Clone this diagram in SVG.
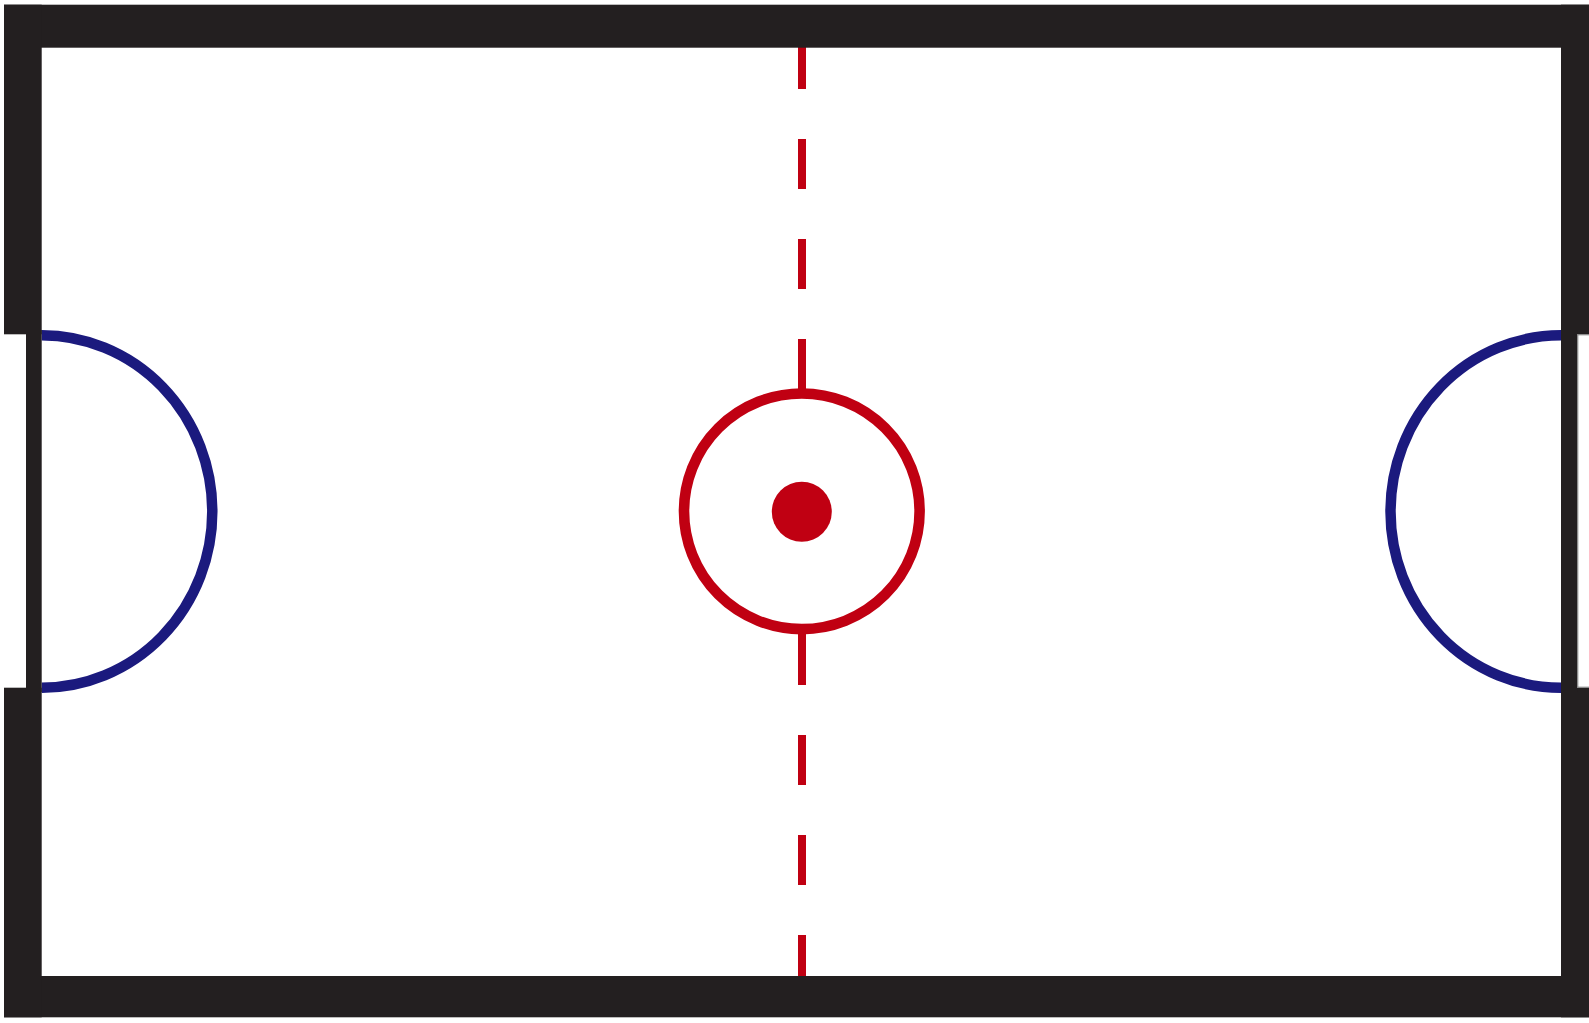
<svg xmlns="http://www.w3.org/2000/svg" width="1589" height="1023" viewBox="0 0 1589 1023">
  <style>
    .wall { fill: #231f20; }
    .goalarc { fill: none; stroke: #1b1a7e; stroke-width: 10.5; }
    .red { fill: #c00012; }
    .redline { fill: none; stroke: #c00012; stroke-width: 10.6; }
  </style>
  <rect x="0" y="0" width="1589" height="1023" fill="#ffffff"/>
  <g id="centre-line">
    <rect class="red" x="798" y="39" width="8" height="50"/>
    <rect class="red" x="798" y="139" width="8" height="50"/>
    <rect class="red" x="798" y="239" width="8" height="50"/>
    <rect class="red" x="798" y="339" width="8" height="53"/>
    <rect class="red" x="798" y="630" width="8" height="55"/>
    <rect class="red" x="798" y="735" width="8" height="50"/>
    <rect class="red" x="798" y="835" width="8" height="50"/>
    <rect class="red" x="798" y="935" width="8" height="45"/>
  </g>
  <g id="centre-circle">
    <circle class="redline" cx="801.8" cy="511.3" r="117.8"/>
    <circle class="red" cx="801.8" cy="511.8" r="30"/>
  </g>
  <g id="left-goal-area">
    <path class="goalarc" d="M41.7,335.3 A170.6,176.2 0 0 1 41.7,687.7"/>
  </g>
  <g id="right-goal-area">
    <path class="goalarc" d="M1561,335.3 A170.5,176.2 0 0 0 1561,687.7"/>
  </g>
  <g id="walls">
    <rect class="wall" x="4" y="4.7" width="1585" height="43"/>
    <rect class="wall" x="4" y="976" width="1585" height="41.3"/>
    <rect class="wall" x="4" y="4.7" width="37.7" height="329.6"/>
    <rect class="wall" x="4" y="687.7" width="37.7" height="329.6"/>
    <rect class="wall" x="26" y="330" width="15.7" height="362"/>
    <rect class="wall" x="1561" y="4.7" width="28" height="329.6"/>
    <rect class="wall" x="1561" y="687.7" width="28" height="329.6"/>
    <rect class="wall" x="1561" y="330" width="16.3" height="362"/>
    <path d="M1589,334.8 H1577.8 V687.2 H1589" fill="none" stroke="#7a7a7a" stroke-width="1"/>
  </g>
</svg>
